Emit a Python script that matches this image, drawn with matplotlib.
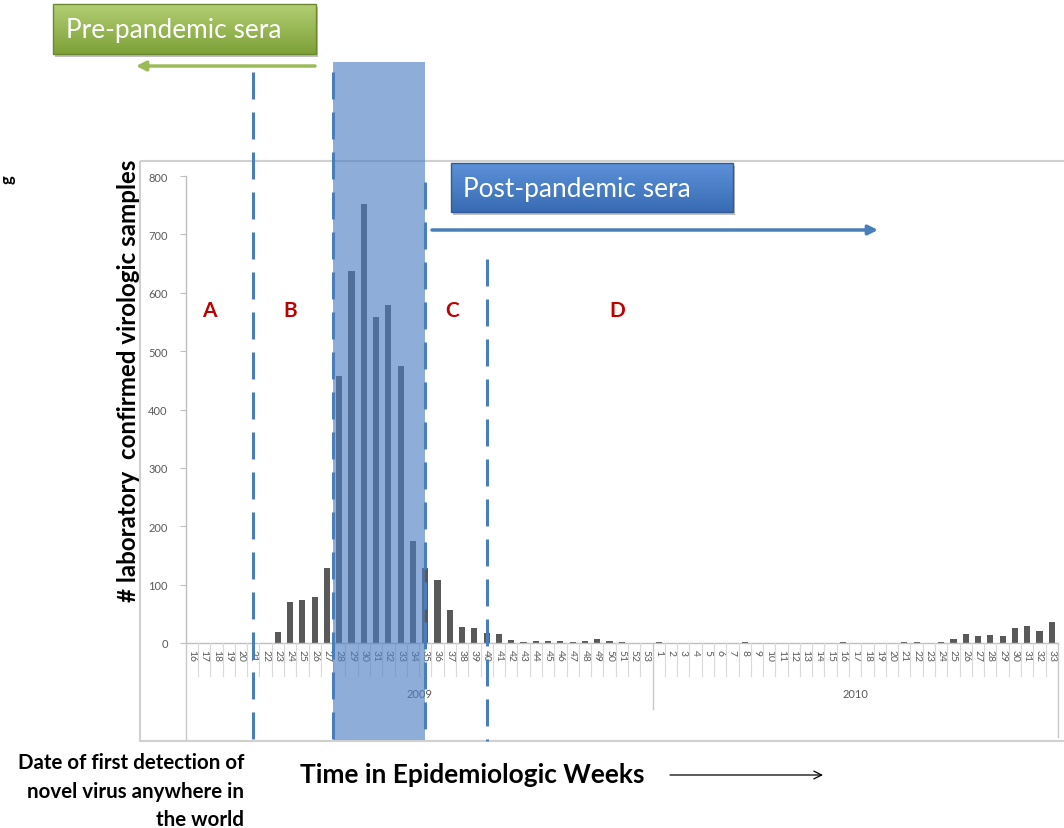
import matplotlib
matplotlib.use("Agg")
import matplotlib.pyplot as plt
import numpy as np
from matplotlib import transforms
from matplotlib.patches import Rectangle

# ---------------- data ----------------
weeks_2009 = list(range(16, 54))
weeks_2010 = list(range(1, 34))
week_labels = [str(w) for w in weeks_2009 + weeks_2010]
counts_2009 = [0, 0, 0, 0, 0, 0, 0, 19, 70, 73, 79, 128,
               457, 637, 752, 558, 579, 474, 175,
               128, 108, 57, 27, 25, 17,
               16, 5, 1, 3, 3, 4, 2, 3, 6, 4, 2, 0, 0]
counts_2010 = [1, 0, 0, 0, 0, 0, 0, 1, 0, 0, 0, 0, 0, 0, 0, 1, 0, 0, 0, 0,
               1, 1, 0, 1, 7, 16, 12, 13, 12, 25, 29, 20, 36]
counts = counts_2009 + counts_2010
years = ["2009", "2010"]
y_ticks = [0, 100, 200, 300, 400, 500, 600, 700, 800]
region_labels = ["A", "B", "C", "D"]

W, H = 1064, 829
FONT = "Lato"
fig = plt.figure(figsize=(W / 100, H / 100), dpi=100)
fig.patch.set_facecolor("white")

# main chart axes
ax = fig.add_axes([185.7 / W, 1 - 644 / H, (1057.9 - 185.7) / W, (644 - 177) / H], zorder=1)
ax.patch.set_alpha(0)
x = np.arange(len(counts))
ax.bar(x, counts, width=0.5, color="#595959", zorder=2)
ax.set_xlim(-0.5, len(counts) - 0.5)
ax.set_ylim(0, 800)
for s in ["top", "right"]:
    ax.spines[s].set_visible(False)
for s in ["left", "bottom"]:
    ax.spines[s].set_color("#bfbfbf")
    ax.spines[s].set_linewidth(1.0)
ax.set_yticks(y_ticks)
ax.set_yticklabels([str(v) for v in y_ticks], fontsize=8, color="#595959", family=FONT)
ax.tick_params(axis="y", length=4, color="#bfbfbf", pad=9)
ax.set_xticks(x)
ax.set_xticklabels(week_labels, rotation=270, fontsize=7.5, color="#595959", family=FONT)
ax.tick_params(axis="x", length=0, pad=4)

# overlay axes in pixel coordinates
ov = fig.add_axes([0, 0, 1, 1], zorder=5)
ov.set_xlim(0, W)
ov.set_ylim(H, 0)
ov.axis("off")
ov.patch.set_alpha(0)
bt = transforms.blended_transform_factory(ax.transData, ov.transData)

# chart border
ov.add_patch(Rectangle((140, 162), 1000, 580, fill=False, edgecolor="#d0d0d0", lw=1.5, zorder=0))

# category separators
n = len(counts)
n09 = len(weeks_2009)
for b in np.arange(0.5, n - 1, 1.0):
    if abs(b - (n09 - 0.5)) < 1e-6:
        continue
    ov.plot([b, b], [644, 677], transform=bt, color="#d9d9d9", lw=0.8, zorder=1)
ov.plot([-0.5, -0.5], [644, 740], transform=bt, color="#c8c8c8", lw=1.0, zorder=1)
ov.plot([n09 - 0.5, n09 - 0.5], [644, 710], transform=bt, color="#c8c8c8", lw=1.0, zorder=1)
ov.plot([n - 0.5, n - 0.5], [644, 738], transform=bt, color="#c8c8c8", lw=1.0, zorder=1)
ov.text((n09 - 1) / 2, 695, years[0], transform=bt, ha="center", va="center",
        fontsize=8, color="#595959", family=FONT, zorder=1)
ov.text((n09 + n - 1) / 2, 695, years[1], transform=bt, ha="center", va="center",
        fontsize=8, color="#595959", family=FONT, zorder=1)

# blue shaded period (weeks 28-34)
ov.add_patch(Rectangle((11.5, 63), 18.95 - 11.5, 741 - 63, transform=bt,
                       facecolor=(0.30, 0.49, 0.76), alpha=0.63, edgecolor="none", zorder=3))

# dashed region boundaries
dash_col = "#4a7ebb"
lw = 2.2
ls = (0, (27 / 1.389 / lw, 13 / 1.389 / lw))
for xi, ytop in [(5, 73), (11.5, 73), (19, 183), (24, 260)]:
    ov.plot([xi, xi], [ytop, 742], transform=bt, color=dash_col, lw=lw, linestyle=ls, zorder=4)

# region letters
for lab, px in zip(region_labels, [209, 290, 452, 617]):
    ov.text(px, 311, lab, ha="center", va="center", fontsize=15, fontweight="bold",
            color="#c00000", family=FONT, zorder=6)


def grad_box(x0, x1, y0, y1, ctop, cbot, z):
    # shadow
    ov.add_patch(Rectangle((x0 + 2, y0 + 3), x1 - x0, y1 - y0, facecolor="black",
                           alpha=0.25, edgecolor="none", zorder=z - 0.2))
    g = np.linspace(0, 1, 64)[:, None, None]
    img = (1 - g) * np.array(ctop)[None, None, :] + g * np.array(cbot)[None, None, :]
    ov.imshow(img, extent=(x0, x1, y1, y0), aspect="auto", zorder=z, interpolation="bilinear")
    ov.add_patch(Rectangle((x0, y0), x1 - x0, y1 - y0, fill=False,
                           edgecolor=tuple(c * 0.85 for c in cbot), lw=1.0, zorder=z + 0.1))


grad_box(53, 316, 5, 55, (0.70, 0.81, 0.45), (0.49, 0.63, 0.22), 7)
grad_box(451, 733, 164, 213, (0.36, 0.57, 0.85), (0.22, 0.42, 0.70), 7)
ov.set_xlim(0, W)
ov.set_ylim(H, 0)

t_pre = ov.text((66 + 281) / 2, 30, "Pre-pandemic sera", ha="center", va="center",
                color="white", fontsize=18, family=FONT, zorder=8)
t_post = ov.text((463 + 690) / 2, 189, "Post-pandemic sera", ha="center", va="center",
                 color="white", fontsize=18, family=FONT, zorder=8)

# arrows
ov.annotate("", xy=(136, 67), xytext=(315, 67),
            arrowprops=dict(arrowstyle="-|>", color="#9bbb59", lw=2.5, mutation_scale=14,
                            shrinkA=0, shrinkB=0), zorder=6)
ov.annotate("", xy=(878, 231), xytext=(432, 231),
            arrowprops=dict(arrowstyle="-|>", color="#4a7ebb", lw=2.5, mutation_scale=14,
                            shrinkA=0, shrinkB=0), zorder=6)
ov.annotate("", xy=(823, 776), xytext=(670, 776),
            arrowprops=dict(arrowstyle="->", color="black", lw=0.9, mutation_scale=14,
                            shrinkA=0, shrinkB=0), zorder=6)

# labels
t_y = ov.text(128, 381, "# laboratory  confirmed virologic samples", rotation=90,
              ha="center", va="center", fontsize=16, fontweight="bold", color="black",
              family=FONT, zorder=6)
t_x = ov.text((300 + 645) / 2, 775, "Time in Epidemiologic Weeks", ha="center", va="center",
              fontsize=18, fontweight="bold", color="black", family=FONT, zorder=6)
t_d1 = ov.text(244, 763, "Date of first detection of", ha="right", va="center",
               fontsize=13, fontweight="bold", color="black", family=FONT, zorder=6)
t_d2 = ov.text(244, 792, "novel virus anywhere in", ha="right", va="center",
               fontsize=13, fontweight="bold", color="black", family=FONT, zorder=6)
t_d3 = ov.text(244, 820, "the world", ha="right", va="center",
               fontsize=13, fontweight="bold", color="black", family=FONT, zorder=6)
ov.text(0, 180, "g", rotation=90, ha="left", va="center", fontsize=12, fontweight="bold",
        color="black", family=FONT, zorder=6)

# fit text widths
renderer = fig.canvas.get_renderer()
for t, target, vertical in [(t_pre, 215, False), (t_post, 227, False), (t_y, 443, True),
                            (t_x, 345, False), (t_d1, 227, False)]:
    bb = t.get_window_extent(renderer)
    cur = bb.height if vertical else bb.width
    t.set_fontsize(t.get_fontsize() * target / cur)
t_d2.set_fontsize(t_d1.get_fontsize())
t_d3.set_fontsize(t_d1.get_fontsize())

fig.savefig("out.png", dpi=100, facecolor="white")
